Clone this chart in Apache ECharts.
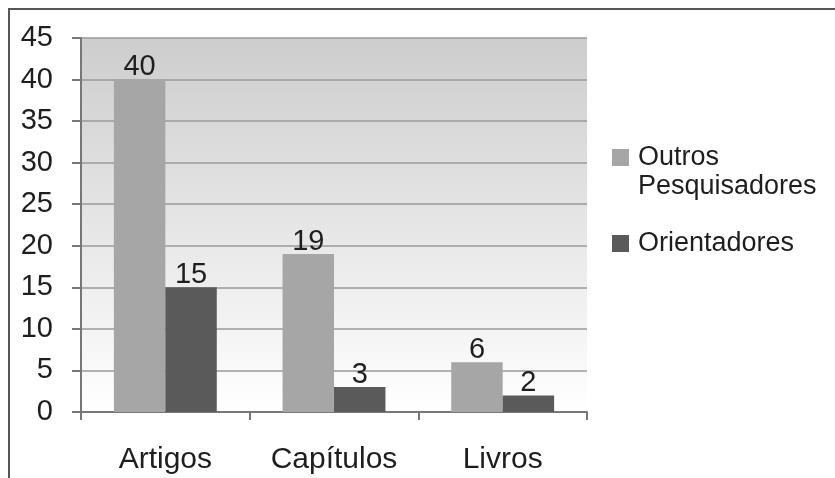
<!DOCTYPE html>
<html>
<head>
<meta charset="utf-8">
<script src="https://cdn.jsdelivr.net/npm/echarts@6/dist/echarts.min.js"></script>
<style>
  html, body { margin: 0; padding: 0; background: #ffffff; }
  #chart { width: 835px; height: 478px; }
</style>
</head>
<body>
<div id="chart"></div>
<script>
// Publications by type, split by author group
const categories = ['Artigos', 'Capítulos', 'Livros'];
const seriesNames = ['Outros Pesquisadores', 'Orientadores'];
const outrosPesquisadores = [40, 19, 6];
const orientadores = [15, 3, 2];
const yTicks = [0, 5, 10, 15, 20, 25, 30, 35, 40, 45];

const FONT = "'Liberation Sans', Arial, sans-serif";
const TEXT = '#1e1e1e';

const chart = echarts.init(document.getElementById('chart'), null, { renderer: 'canvas' });

const valueLabel = {
  show: true,
  position: 'top',
  distance: -2,
  color: TEXT,
  fontFamily: FONT,
  fontSize: 29
};

chart.setOption({
  animation: false,
  backgroundColor: '#ffffff',
  textStyle: { fontFamily: FONT },
  graphic: [{
    type: 'polyline',
    silent: true,
    shape: { points: [[9, 478], [9, 9], [835, 9]] },
    style: { stroke: '#555555', lineWidth: 2, fill: null }
  }],
  grid: {
    left: 81, top: 38, right: 248, bottom: 66,
    show: true,
    borderWidth: 0,
    backgroundColor: new echarts.graphic.LinearGradient(0, 0, 0, 1, [
      { offset: 0, color: '#cdcdcd' },
      { offset: 1, color: '#ffffff' }
    ])
  },
  legend: {
    orient: 'vertical',
    left: 612,
    top: 114,
    padding: 0,
    itemWidth: 17,
    itemHeight: 17,
    itemGap: 28,
    icon: 'rect',
    textStyle: {
      fontFamily: FONT, fontSize: 27, lineHeight: 29, color: TEXT,
      rich: { a: { fontFamily: FONT, fontSize: 27, lineHeight: 29, color: TEXT, padding: [0, 0, 0, 4] } }
    },
    // first entry wraps onto two lines, with its square beside the first line
    formatter: name => name === seriesNames[0]
      ? '{a| }\n{a|Outros}\n{a|Pesquisadores}'
      : '{a|' + name + '}',
    data: seriesNames
  },
  xAxis: {
    type: 'category',
    data: categories,
    axisLine: { lineStyle: { color: '#777777', width: 2 } },
    axisTick: { show: true, length: 8, lineStyle: { color: '#777777', width: 2 } },
    axisLabel: { margin: 33, color: TEXT, fontFamily: FONT, fontSize: 30 }
  },
  yAxis: {
    type: 'value',
    min: yTicks[0],
    max: yTicks[yTicks.length - 1],
    interval: yTicks[1] - yTicks[0],
    axisLine: { show: true, lineStyle: { color: '#777777', width: 2 } },
    axisTick: { show: true, length: 9, lineStyle: { color: '#777777', width: 2 } },
    axisLabel: { margin: 28, color: TEXT, fontFamily: FONT, fontSize: 29 },
    splitLine: { lineStyle: { color: '#9a9a9a', width: 1.5 } }
  },
  series: [
    {
      name: seriesNames[0],
      type: 'bar',
      data: outrosPesquisadores,
      barGap: '0%',
      barCategoryGap: '39%',
      itemStyle: { color: '#a6a6a6' },
      label: valueLabel
    },
    {
      name: seriesNames[1],
      type: 'bar',
      data: orientadores,
      barGap: '0%',
      barCategoryGap: '39%',
      itemStyle: { color: '#5a5a5a' },
      label: valueLabel
    }
  ]
});
</script>
</body>
</html>
